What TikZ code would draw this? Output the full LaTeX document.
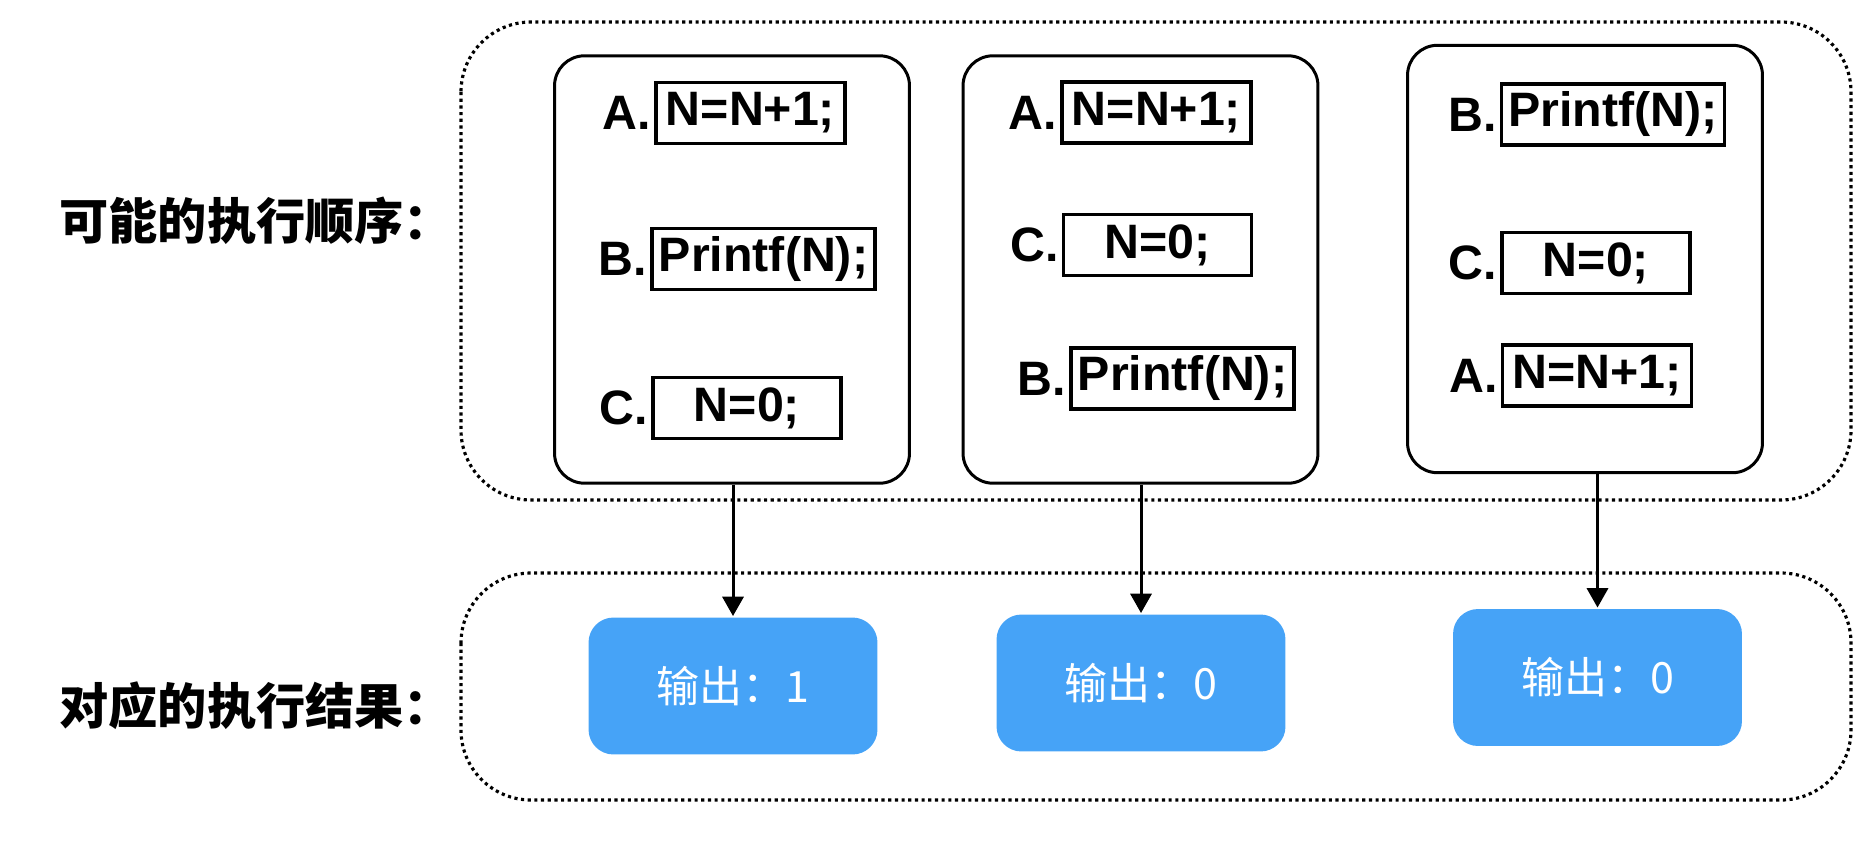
\documentclass[tikz,border=0pt]{standalone}
\usepackage{fontspec}
\setmainfont{Liberation Sans}
\newfontfamily\cjk{Noto Sans CJK SC}
\usetikzlibrary{arrows.meta}
\definecolor{outblue}{RGB}{70,163,247}

\tikzset{every picture/.style={line width=1.7pt}}
\tikzset{
  orderbox/.style={draw, rounded corners=0.6cm,
                   minimum width=7.1cm, minimum height=8.55cm},
  codebox/.style={draw, line width=1.8pt, minimum height=1.22cm,
                  inner sep=0pt, font=\fontsize{27.5}{32}\selectfont\bfseries},
  stmtinc/.style={codebox, minimum width=3.78cm},
  stmtprint/.style={codebox, minimum width=4.46cm},
  stmtzero/.style={codebox, minimum width=3.76cm},
  tag/.style={anchor=east, inner sep=1pt,
              font=\fontsize{27.5}{32}\selectfont\bfseries},
  resultbox/.style={fill=outblue, text=white, rounded corners=0.5cm,
                    minimum width=5.78cm, minimum height=2.74cm,
                    font=\cjk\fontsize{24.5}{28}\selectfont},
  groupbox/.style={line width=1.8pt, dash pattern=on 1.8pt off 2pt,
                   rounded corners=1.4cm},
  caption/.style={anchor=west, inner sep=0pt,
                  font=\cjk\fontsize{28}{32}\selectfont\bfseries},
  flow/.style={-{Triangle[width=12pt,length=11pt]}},
}

\begin{document}
\begin{tikzpicture}[x=0.02cm, y=-0.02cm]
  \useasboundingbox (0,0) rectangle (1876,862);
  % dotted groups
  \draw[groupbox] (461,22) rectangle (1851,500);
  \draw[groupbox] (461,573) rectangle (1851,800);
  % captions
  \node[caption] (cap1) at (58,221) {可能的执行顺序：};
  \node[caption] (cap2) at (58,706) {对应的执行结果：};
  % possible orders
  \node[orderbox] (ord1) at (732,269.5) {};
  \node[orderbox] (ord2) at (1140.5,269.5) {};
  \node[orderbox] (ord3) at (1585,259) {};
  % order 1: A B C
  \node[stmtinc]   (a1) at (750.5,113) {N=N+1;};
  \node[stmtprint] (b1) at (763.5,259) {Printf(N);};
  \node[stmtzero]  (c1) at (747,408)   {N=0;};
  % order 2: A C B
  \node[stmtinc]   (a2) at (1156.5,112.5) {N=N+1;};
  \node[stmtzero]  (c2) at (1157.5,245)   {N=0;};
  \node[stmtprint] (b2) at (1182.5,378.5) {Printf(N);};
  % order 3: B C A
  \node[stmtprint] (b3) at (1613,114.5) {Printf(N);};
  \node[stmtzero]  (c3) at (1596,263)   {N=0;};
  \node[stmtinc]   (a3) at (1597,375.5) {N=N+1;};
  % letters in front of the statements
  \foreach \s/\t in {a1/A,b1/B,c1/C,a2/A,c2/C,b2/B,b3/B,c3/C,a3/A} {
    \node[tag] (\s tag) at (\s.west) {\t.};
  };
  % results
  \node[resultbox] (res1) at (733,686)    {输出：1};
  \node[resultbox] (res2) at (1141,683)   {输出：0};
  \node[resultbox] (res3) at (1597.5,677.5) {输出：0};
  % connect orders to results
  \draw[flow] (ord1.south -| res1.north) -- (res1.north);
  \draw[flow] (ord2.south -| res2.north) -- (res2.north);
  \draw[flow] (ord3.south -| res3.north) -- (res3.north);
\end{tikzpicture}
\end{document}
